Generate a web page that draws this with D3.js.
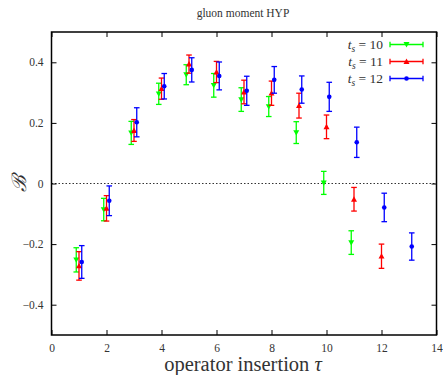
<!DOCTYPE html>
<html>
<head>
<meta charset="utf-8">
<script src="https://cdn.jsdelivr.net/npm/d3@7"></script>
<style>
  body { margin: 0; background: #fff; }
  text { font-family: "Liberation Serif", "DejaVu Serif", serif; fill: #333; }
</style>
</head>
<body>
<div id="chart"></div>
<script>
// operator insertion tau for each source-sink separation
const tau10 = [1, 2, 3, 4, 5, 6, 7, 8, 9, 10, 11];
const tau11 = [1, 2, 3, 4, 5, 6, 7, 8, 9, 10, 11, 12];
const tau12 = [1, 2, 3, 4, 5, 6, 7, 8, 9, 10, 11, 12, 13];

const val10 = [-0.252, -0.086, 0.167, 0.296, 0.359, 0.324, 0.277, 0.254, 0.168, 0.002, -0.195];
const err10 = [0.040, 0.037, 0.038, 0.035, 0.033, 0.039, 0.039, 0.033, 0.036, 0.038, 0.039];

const val11 = [-0.272, -0.082, 0.175, 0.313, 0.394, 0.368, 0.302, 0.298, 0.257, 0.187, -0.052, -0.24];
const err11 = [0.047, 0.042, 0.036, 0.035, 0.030, 0.035, 0.039, 0.040, 0.041, 0.039, 0.039, 0.040];

const val12 = [-0.259, -0.057, 0.202, 0.321, 0.375, 0.355, 0.306, 0.342, 0.310, 0.286, 0.136, -0.079, -0.208];
const err12 = [0.054, 0.049, 0.048, 0.042, 0.040, 0.046, 0.048, 0.044, 0.045, 0.048, 0.050, 0.047, 0.045];

const xTicks = [0, 2, 4, 6, 8, 10, 12, 14];
const yTicks = [-0.4, -0.2, 0, 0.2, 0.4];

const series = [
  {label: "10", x: tau10, y: val10, e: err10, color: "#00ff00", shift: -0.1, marker: "down"},
  {label: "11", x: tau11, y: val11, e: err11, color: "#ff0000", shift: 0, marker: "up"},
  {label: "12", x: tau12, y: val12, e: err12, color: "#0000ff", shift: 0.1, marker: "circle"}
];

const W = 443, H = 375;
const margin = {top: 32, right: 6.5, bottom: 40, left: 51.5};

const svg = d3.select("#chart").append("svg")
  .attr("width", W).attr("height", H);

const x = d3.scaleLinear().domain([0, 14]).range([margin.left, W - margin.right]);
const y = d3.scaleLinear().domain([-0.5, 0.5]).range([H - margin.bottom, margin.top]);

// zero line
svg.append("line")
  .attr("x1", x(0)).attr("x2", x(14))
  .attr("y1", y(0)).attr("y2", y(0))
  .attr("stroke", "#333").attr("stroke-width", 1)
  .attr("stroke-dasharray", "1.5,2");

// axes, ticks pointing inward
const fmt = d => d === 0 ? "0" : d3.format(".1f")(d).replace("-", "\u2212");
svg.append("g")
  .attr("transform", "translate(0," + y(-0.5) + ")")
  .call(d3.axisBottom(x).tickValues(xTicks).tickSize(-5).tickPadding(9).tickFormat(d => d));
svg.append("g")
  .attr("transform", "translate(0," + y(0.5) + ")")
  .call(d3.axisTop(x).tickValues(xTicks).tickSize(-5).tickFormat(""));
svg.append("g")
  .attr("transform", "translate(" + x(0) + ",0)")
  .call(d3.axisLeft(y).tickValues(yTicks).tickSize(-5).tickPadding(8).tickFormat(fmt));
svg.append("g")
  .attr("transform", "translate(" + x(14) + ",0)")
  .call(d3.axisRight(y).tickValues(yTicks).tickSize(-5).tickFormat(""));

svg.selectAll(".domain").remove();
svg.selectAll(".tick line").attr("stroke", "#000").attr("stroke-width", 1);
svg.selectAll(".tick text").attr("font-size", 11.5).attr("fill", "#444")
  .attr("font-family", "'Liberation Serif', serif");

// frame
svg.append("rect")
  .attr("x", x(0)).attr("y", y(0.5))
  .attr("width", x(14) - x(0)).attr("height", y(-0.5) - y(0.5))
  .attr("fill", "none").attr("stroke", "#000").attr("stroke-width", 1.5);

function marker(g, kind, cx, cy, color) {
  if (kind === "circle") {
    g.append("circle").attr("cx", cx).attr("cy", cy).attr("r", 2.3).attr("fill", color);
  } else {
    const s = 3;
    const pts = kind === "up"
      ? [[cx, cy - s], [cx - s, cy + s * 0.8], [cx + s, cy + s * 0.8]]
      : [[cx, cy + s], [cx - s, cy - s * 0.8], [cx + s, cy - s * 0.8]];
    g.append("polygon").attr("points", pts.map(p => p.join(",")).join(" ")).attr("fill", color);
  }
}

const cap = 2.8;
series.forEach(s => {
  const g = svg.append("g");
  s.x.forEach((t, i) => {
    const px = x(t + s.shift);
    const y1 = y(s.y[i] + s.e[i]), y2 = y(s.y[i] - s.e[i]);
    g.append("line").attr("x1", px).attr("x2", px).attr("y1", y1).attr("y2", y2)
      .attr("stroke", s.color).attr("stroke-width", 1.3);
    [y1, y2].forEach(yy => g.append("line")
      .attr("x1", px - cap).attr("x2", px + cap).attr("y1", yy).attr("y2", yy)
      .attr("stroke", s.color).attr("stroke-width", 1.3));
    marker(g, s.marker, px, y(s.y[i]), s.color);
  });
});

// legend
const leg = svg.append("g");
series.forEach((s, i) => {
  const ly = 44.5 + i * 17;
  const t = leg.append("text").attr("x", 383).attr("y", ly + 4.5)
    .attr("text-anchor", "end").attr("font-size", 13.5);
  t.append("tspan").attr("font-style", "italic").text("t");
  t.append("tspan").attr("font-style", "italic").attr("font-size", 9.5).attr("dy", 2.5).text("s");
  t.append("tspan").attr("dy", -2.5).text(" = " + s.label);
  leg.append("line").attr("x1", 390).attr("x2", 423).attr("y1", ly).attr("y2", ly)
    .attr("stroke", s.color).attr("stroke-width", 1.3);
  [390, 423].forEach(xx => leg.append("line")
    .attr("x1", xx).attr("x2", xx).attr("y1", ly - cap).attr("y2", ly + cap)
    .attr("stroke", s.color).attr("stroke-width", 1.3));
  marker(leg, s.marker, 406.5, ly, s.color);
});

// title and labels
svg.append("text").attr("x", 243).attr("y", 17).attr("text-anchor", "middle")
  .attr("font-size", 11.5).text("gluon moment HYP");

const xl = svg.append("text").attr("x", 243).attr("y", 371).attr("text-anchor", "middle")
  .attr("font-size", 20.5);
xl.append("tspan").text("operator insertion ");
xl.append("tspan").attr("font-style", "italic").text("\u03C4");

svg.append("text")
  .attr("transform", "translate(26," + y(0) + ") rotate(-90)")
  .attr("text-anchor", "middle").attr("font-size", 20).attr("font-style", "italic")
  .text("\u212C");
</script>
</body>
</html>
